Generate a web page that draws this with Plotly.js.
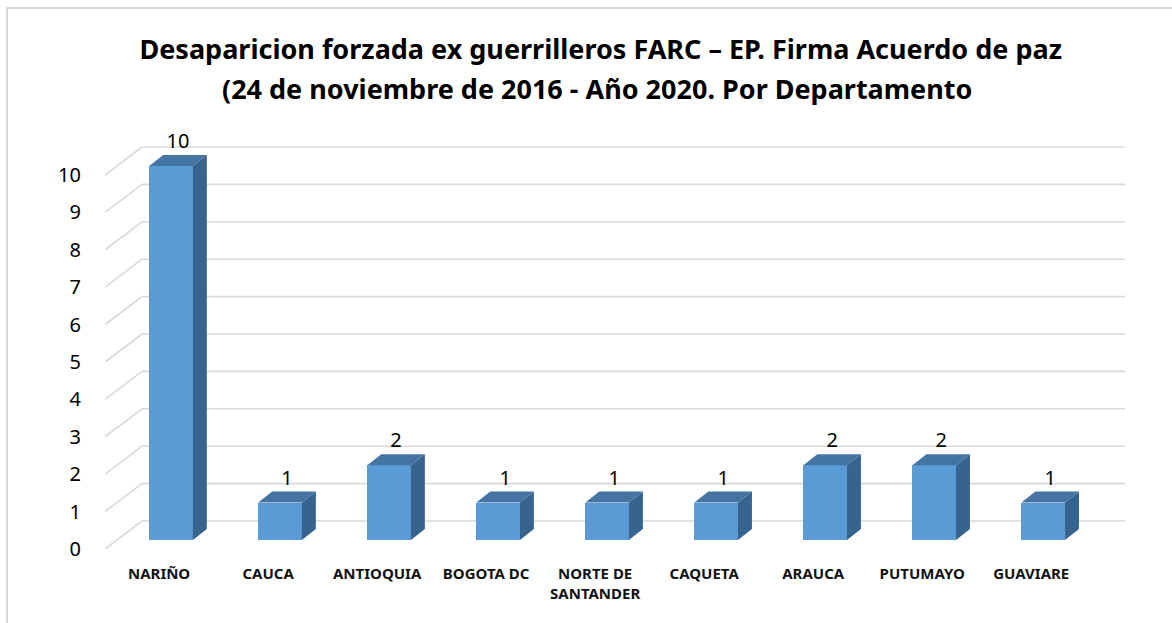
<!DOCTYPE html>
<html>
<head>
<meta charset="utf-8">
<script src="https://cdn.plot.ly/plotly-3.0.1.min.js"></script>
<style>
  body { margin: 0; background: #fff; }
  #wrap { position: relative; width: 1172px; height: 623px; }
  #chart { width: 1172px; height: 623px; }
  #frame {
    position: absolute; left: 6px; top: 7px; right: -2px; bottom: -2px;
    border-top: 2px solid #d9d9d9; border-left: 2px solid #d9d9d9;
    pointer-events: none;
  }
</style>
</head>
<body>
<div id="wrap">
  <div id="chart"></div>
  <div id="frame"></div>
</div>
<script>
// data
const departments = ["NARIÑO", "CAUCA", "ANTIOQUIA", "BOGOTA DC", "NORTE DE<br>SANTANDER",
                     "CAQUETA", "ARAUCA", "PUTUMAYO", "GUAVIARE"];
const cases = [10, 1, 2, 1, 1, 1, 2, 2, 1];
const yTicks = [0, 1, 2, 3, 4, 5, 6, 7, 8, 9, 10];

// fake 3D geometry, in data units
const barWidth = 0.4;
const depthX = 0.128;    // side face shift to the right
const depthY = 0.294;    // top face shift upward
const frontY = -0.2406;  // floor front edge relative to bar base
const backY = 0.508;     // back wall relative to bar base
const wallLeft = -0.266;
const floorLeft = -0.606;
const wallRight = 8.75;

const frontColor = "#5B9BD5";
const sideColor = "#37648E";
const topColor = "#4374A2";

const idx = departments.map((_, i) => i);

const traces = [];

traces.push({
  type: "bar",
  x: idx,
  y: cases,
  width: barWidth,
  marker: { color: frontColor, line: { width: 0 } },
  hoverinfo: "skip",
  showlegend: false
});

cases.forEach((v, i) => {
  const l = i - barWidth / 2, r = i + barWidth / 2;
  traces.push({
    type: "scatter", mode: "lines",
    x: [r, r + depthX, r + depthX, r, r],
    y: [0, depthY, v + depthY, v, 0],
    fill: "toself", fillcolor: sideColor,
    line: { width: 0, color: sideColor },
    hoverinfo: "skip", showlegend: false
  });
  traces.push({
    type: "scatter", mode: "lines",
    x: [l, l + depthX, r + depthX, r, l],
    y: [v, v + depthY, v + depthY, v, v],
    fill: "toself", fillcolor: topColor,
    line: { width: 0, color: topColor },
    hoverinfo: "skip", showlegend: false
  });
});

traces.push({
  type: "scatter",
  mode: "text",
  x: idx.map(i => i + depthX / 2),
  y: cases.map(v => v + depthY + 0.05),
  text: cases.map(String),
  textposition: "top center",
  cliponaxis: false,
  textfont: { family: "Noto Sans, sans-serif", size: 20, color: "#000" },
  hoverinfo: "skip",
  showlegend: false
});

// back wall grid: diagonal from floor front plus horizontal line on the wall
const shapes = [];
yTicks.forEach(k => {
  shapes.push({
    type: "line", layer: "below", xref: "x", yref: "y",
    x0: floorLeft, y0: k + frontY, x1: wallLeft, y1: k + backY,
    line: { color: "#d9d9d9", width: 1.6 }
  });
  shapes.push({
    type: "line", layer: "below", xref: "x", yref: "y",
    x0: wallLeft, y0: k + backY, x1: wallRight, y1: k + backY,
    line: { color: "#d9d9d9", width: 1.6 }
  });
});

const titleFont = { family: "Noto Sans, sans-serif", size: 27, color: "#000", weight: "bold" };

const layout = {
  width: 1172,
  height: 623,
  margin: { l: 105, r: 47, t: 140, b: 74 },
  paper_bgcolor: "#fff",
  plot_bgcolor: "rgba(0,0,0,0)",
  title: {
    text: "Desaparicion forzada ex guerrilleros FARC – EP. Firma Acuerdo de paz",
    font: titleFont,
    x: 0.486, xref: "paper", xanchor: "center",
    y: 0.921, yref: "container", yanchor: "middle"
  },
  annotations: [{
    text: "(24 de noviembre de 2016 - Año 2020. Por Departamento",
    font: titleFont,
    xref: "paper", yref: "paper", x: 0.482, y: 1.125,
    xanchor: "center", yanchor: "middle", showarrow: false
  }],
  shapes: shapes,
  xaxis: {
    range: [floorLeft, wallRight],
    tickmode: "array",
    tickvals: idx.map(i => i - 0.11),
    ticktext: departments,
    tickfont: { family: "Noto Sans, sans-serif", size: 15, color: "#111", weight: "bold" },
    ticks: "outside", ticklen: 11, tickcolor: "rgba(0,0,0,0)",
    showgrid: false, zeroline: false, showline: false, fixedrange: true
  },
  yaxis: {
    range: [frontY, 10.695],
    tickmode: "array",
    tickvals: yTicks.map(k => k + frontY),
    ticktext: yTicks.map(String),
    tickfont: { family: "Noto Sans, sans-serif", size: 20, color: "#000" },
    ticks: "outside", ticklen: 19, tickcolor: "rgba(0,0,0,0)",
    showgrid: false, zeroline: false, showline: false, fixedrange: true
  },
  bargap: 0,
  showlegend: false
};

Plotly.newPlot("chart", traces, layout, { displayModeBar: false, staticPlot: true });
</script>
</body>
</html>
